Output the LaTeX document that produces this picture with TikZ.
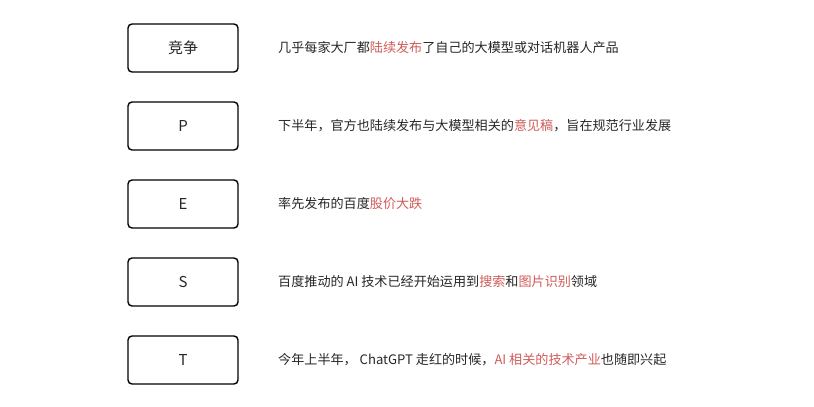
\documentclass[tikz,border=0pt]{standalone}
\usepackage{fontspec}
\setmainfont{Noto Sans CJK SC}
\definecolor{hl}{HTML}{CF5B59}
\definecolor{txt}{HTML}{262626}
\begin{document}
\begin{tikzpicture}[x=1pt,y=-1pt,
  box/.style={draw=black,line width=1.4pt,rounded corners=4pt,minimum width=110pt,minimum height=48pt,inner sep=0pt,font=\fontsize{15}{18}\selectfont,text=txt},
  desc/.style={anchor=west,inner sep=0pt,font=\fontsize{13.1}{15}\selectfont,text=txt}]
\useasboundingbox (0,0) rectangle (814,407);
\node[box] (b1) at (183,48) {竞争};
\node[box] (b2) at (183,126) {P};
\node[box] (b3) at (183,204) {E};
\node[box] (b4) at (183,282) {S};
\node[box] (b5) at (183,360) {T};
\node[desc] (t1) at (278,48) {几乎每家大厂都\textcolor{hl}{陆续发布}了自己的大模型或对话机器人产品};
\node[desc] (t2) at (278,126) {下半年，官方也陆续发布与大模型相关的\textcolor{hl}{意见稿}，旨在规范行业发展};
\node[desc] (t3) at (278,204) {率先发布的百度\textcolor{hl}{股价大跌}};
\node[desc] (t4) at (278,282) {百度推动的 AI 技术已经开始运用到\textcolor{hl}{搜索}和\textcolor{hl}{图片识别}领域};
\node[desc] (t5) at (278,360) {今年上半年，\ ChatGPT 走红的时候，\textcolor{hl}{AI 相关的技术产业}也随即兴起};
\end{tikzpicture}
\end{document}
